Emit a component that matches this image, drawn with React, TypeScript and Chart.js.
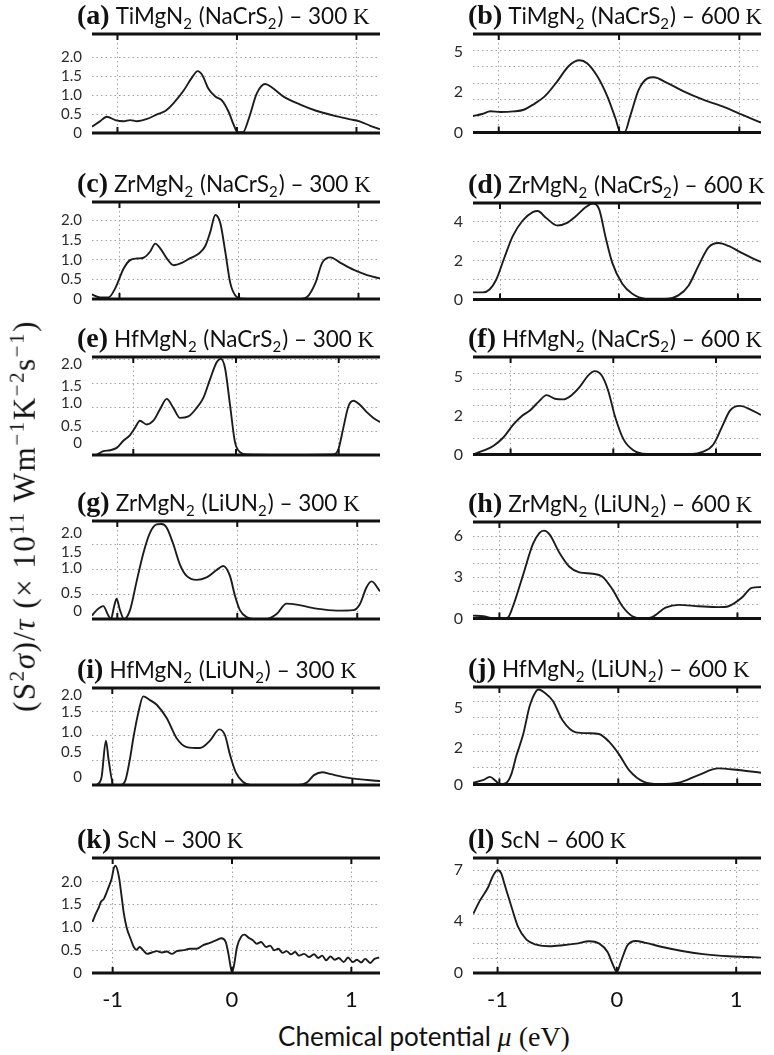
import React, { useEffect, useRef } from "react";
import { Chart, registerables } from "chart.js";
Chart.register(...registerables);

// ---------------- data (chemical potential in eV, (S^2 sigma)/tau in 1e11 units) ----------------
const muA = [-1.213,-1.15,-1.088,-1.018,-0.948,-0.893,-0.837,-0.753,-0.669,-0.6,-0.53,-0.446,-0.377,-0.329,-0.293,-0.237,-0.181,-0.126,-0.07,-0.028,0.006,0.05,0.098,0.167,0.237,0.293,0.39,0.53,0.669,0.809,0.948,1.032,1.116,1.197];
const sA = [0.165,0.3,0.43,0.34,0.31,0.34,0.31,0.37,0.49,0.58,0.79,1.12,1.46,1.63,1.54,1.16,0.96,0.86,0.56,0.22,0.02,0.02,0.37,1.05,1.29,1.2,0.96,0.75,0.58,0.46,0.36,0.3,0.19,0.1];

const muB = [-1.214,-1.138,-1.069,-0.986,-0.875,-0.792,-0.709,-0.612,-0.515,-0.418,-0.327,-0.266,-0.183,-0.1,-0.03,0.011,0.047,0.094,0.163,0.233,0.288,0.399,0.537,0.704,0.87,1.008,1.119,1.18];
const sB = [1.0,1.12,1.29,1.24,1.28,1.38,1.72,2.24,3.1,4.05,4.4,4.22,3.45,2.24,0.86,0.03,0.03,1.03,2.59,3.28,3.36,3.02,2.5,1.98,1.55,1.12,0.78,0.6];

const muC = [-1.232,-1.162,-1.092,-1.036,-0.966,-0.911,-0.855,-0.799,-0.743,-0.701,-0.659,-0.603,-0.547,-0.478,-0.408,-0.338,-0.282,-0.24,-0.198,-0.156,-0.115,-0.073,-0.031,0.025,0.235,0.514,0.57,0.64,0.696,0.765,0.849,0.961,1.073,1.184];
const sC = [0.12,0.04,0.04,0.27,0.77,0.99,1.03,1.05,1.21,1.41,1.29,1.03,0.86,0.92,1.04,1.15,1.35,1.71,2.14,1.93,1.21,0.41,0.09,0.01,0,0,0.05,0.41,0.92,1.06,0.92,0.74,0.61,0.52];

const muD = [-1.227,-1.144,-1.088,-1.032,-0.962,-0.893,-0.809,-0.725,-0.683,-0.614,-0.516,-0.446,-0.363,-0.279,-0.223,-0.167,-0.112,-0.056,0.028,0.112,0.223,0.39,0.502,0.586,0.669,0.753,0.837,0.921,1.032,1.116,1.194];
const sD = [0.36,0.36,0.51,1.01,2.17,3.26,4.06,4.49,4.55,4.2,3.8,3.91,4.28,4.75,4.93,4.64,3.19,1.88,0.8,0.29,0.04,0.03,0.22,0.72,1.74,2.68,2.9,2.75,2.39,2.14,1.93];

const muE = [-1.357,-1.292,-1.227,-1.162,-1.097,-1.032,-0.984,-0.935,-0.87,-0.805,-0.74,-0.675,-0.61,-0.545,-0.464,-0.383,-0.318,-0.253,-0.188,-0.149,-0.107,-0.058,-0.01,0.039,0.104,0.461,0.948,0.997,1.045,1.094,1.143,1.208,1.273,1.338,1.402];
const sE = [0,0.08,0.1,0.15,0.3,0.42,0.57,0.72,0.64,0.72,0.96,1.18,0.99,0.78,0.81,0.99,1.2,1.59,1.95,2.02,1.83,1.05,0.27,0.06,0.01,0,0.01,0.12,0.57,1.02,1.14,1.05,0.9,0.78,0.69];

const muF = [-1.364,-1.266,-1.169,-1.071,-0.974,-0.893,-0.812,-0.731,-0.649,-0.568,-0.487,-0.406,-0.325,-0.244,-0.179,-0.114,-0.049,0.016,0.097,0.195,0.325,0.747,0.877,0.974,1.055,1.136,1.234,1.331,1.438];
const sF = [0,0.23,0.52,1.04,1.83,2.35,2.7,3.22,3.65,3.43,3.39,3.65,4.17,4.87,5.13,4.87,3.91,2.35,0.96,0.26,0.03,0.02,0.17,0.61,1.65,2.7,2.99,2.78,2.43];

const muG = [-1.211,-1.172,-1.117,-1.075,-1.053,-1.028,-1.006,-0.978,-0.944,-0.894,-0.839,-0.783,-0.728,-0.672,-0.631,-0.589,-0.533,-0.478,-0.422,-0.339,-0.256,-0.172,-0.117,-0.061,-0.019,0.022,0.078,0.161,0.244,0.328,0.411,0.494,0.661,0.828,0.967,1.022,1.078,1.119,1.19];
const sG = [0.07,0.18,0.26,0.07,0,0.24,0.41,0.18,0,0.18,0.76,1.33,1.74,1.91,1.92,1.85,1.51,1.1,0.87,0.79,0.84,0.99,1.07,0.87,0.47,0.18,0.04,0,0,0.1,0.31,0.29,0.21,0.17,0.18,0.3,0.64,0.76,0.56];

const muH = [-1.222,-1.136,-1.053,-0.97,-0.93,-0.886,-0.802,-0.719,-0.663,-0.627,-0.579,-0.496,-0.412,-0.329,-0.217,-0.134,-0.05,0.033,0.117,0.2,0.284,0.396,0.507,0.674,0.841,0.925,1.036,1.12,1.198];
const sH = [0.2,0.16,0,0,0.05,0.89,3.15,5.42,6.25,6.41,6.14,4.8,3.77,3.36,3.26,3.05,2.12,0.89,0.16,0,0.1,0.78,0.99,0.89,0.82,0.89,1.5,2.23,2.29];

const muI = [-1.128,-1.09,-1.053,-1.03,-0.99,-0.93,-0.89,-0.855,-0.825,-0.783,-0.742,-0.69,-0.63,-0.547,-0.464,-0.38,-0.27,-0.186,-0.108,-0.061,-0.019,0.03,0.09,0.15,0.25,0.55,0.62,0.68,0.75,0.82,0.98,1.23];
const sI = [0,0.15,0.9,0.5,0,0,0.1,0.5,0.95,1.47,1.8,1.73,1.63,1.36,0.95,0.77,0.75,0.9,1.13,1.01,0.61,0.25,0.06,0,0,0,0.05,0.2,0.26,0.22,0.14,0.08];

const muJ = [-1.222,-1.139,-1.08,-1.03,-0.997,-0.94,-0.9,-0.858,-0.8,-0.746,-0.69,-0.669,-0.62,-0.55,-0.468,-0.357,-0.245,-0.162,-0.078,0.006,0.09,0.216,0.341,0.508,0.674,0.841,1.008,1.2];
const sJ = [0.1,0.25,0.45,0.2,0,0.1,0.6,1.7,3.0,4.68,5.6,5.69,5.5,5.0,3.83,3.12,3.07,3.02,2.56,1.8,0.86,0.15,0.02,0.1,0.56,0.96,0.86,0.7];

const muK = [-1.169,-1.141,-1.114,-1.1,-1.072,-1.05,-1.028,-1.008,-0.99,-0.975,-0.947,-0.928,-0.906,-0.884,-0.85,-0.823,-0.801,-0.773,-0.745,-0.712,-0.67,-0.629,-0.587,-0.546,-0.504,-0.463,-0.407,-0.352,-0.296,-0.241,-0.186,-0.13,-0.089,-0.053,-0.03,-0.014,0,0.017,0.042,0.078,0.105,0.141,0.175,0.208,0.244,0.285,0.319,0.355,0.388,0.424,0.457,0.493,0.529,0.562,0.604,0.645,0.687,0.723,0.756,0.789,0.825,0.861,0.895,0.936,0.972,1.011,1.047,1.083,1.116,1.158,1.194,1.233];
const sK = [1.12,1.3,1.45,1.55,1.63,1.77,1.92,2.07,2.3,2.35,2.1,1.74,1.3,1.01,0.75,0.57,0.51,0.57,0.5,0.42,0.45,0.48,0.45,0.47,0.42,0.48,0.5,0.53,0.53,0.61,0.66,0.72,0.76,0.68,0.42,0.17,0.01,0.17,0.57,0.8,0.84,0.77,0.72,0.64,0.68,0.57,0.6,0.5,0.53,0.44,0.48,0.41,0.46,0.38,0.42,0.35,0.41,0.33,0.38,0.28,0.36,0.29,0.33,0.24,0.34,0.24,0.29,0.23,0.31,0.22,0.31,0.34];

const muL = [-1.203,-1.147,-1.078,-1.04,-1.0,-0.97,-0.939,-0.883,-0.828,-0.758,-0.675,-0.564,-0.453,-0.342,-0.231,-0.147,-0.078,-0.031,0,0.033,0.089,0.158,0.242,0.381,0.547,0.742,0.936,1.103,1.208];
const sL = [4.05,4.95,5.86,6.6,7.0,6.8,5.98,4.5,3.14,2.27,1.93,1.82,1.89,2.0,2.16,2.0,1.43,0.52,0.07,0.75,1.89,2.18,2.05,1.77,1.5,1.27,1.14,1.09,1.05];

// ---------------- axis ticks ----------------
const xTickValues = [-1, 0, 1];
const xTickText = ["-1", "0", "1"];

const grid300 = [0.5, 1, 1.5, 2];
const grid300short = [0.5, 1, 1.5];
const tickText300 = ["0", "0.5", "1.0", "1.5", "2.0"];
const tickPos300 = [0, 0.5, 1, 1.5, 2];
const tickPosE = [0.24, 0.61, 1.08, 1.44, 1.92];
const tickPosG = [0.15, 0.53, 1.02, 1.36, 1.74];
const tickPosI = [0.15, 0.67, 1.07, 1.47, 1.82];

const gridB = [1, 2, 3, 4, 5];
const tickPosB = [0, 2.5, 4.9];
const tickTextB = ["0", "2", "5"];
const gridD = [1, 2, 3, 4];
const tickPosD = [0, 2, 4];
const tickTextD = ["0", "2", "4"];
const gridF = [1, 2, 3, 4, 5];
const tickPosF = [0, 2.35, 4.75];
const tickTextF = ["0", "2", "5"];
const gridH = [1, 2, 3, 4, 5, 6];
const tickPosH = [0, 3, 6];
const tickTextH = ["0", "3", "6"];
const gridJ = [1, 2, 3, 4, 5];
const tickPosJ = [0, 2.22, 4.59];
const tickTextJ = ["0", "2", "5"];
const gridL = [1, 2, 3, 4, 5, 6, 7];
const tickPosL = [0, 3.55, 7.0];
const tickTextL = ["0", "4", "7"];

// ---------------- panels ----------------
const PANELS = [
  { letter: "(a)", title: "TiMgN_2 (NaCrS_2) – 300 K", col: 0, T: 34, B: 150, xMin: -1.213, xMax: 1.197, yMax: 2.61, mu: muA, s: sA, grid: grid300, tp: tickPos300, tt: tickText300 },
  { letter: "(b)", title: "TiMgN_2 (NaCrS_2) – 600 K", col: 1, T: 34, B: 150, xMin: -1.214, xMax: 1.18, yMax: 6.0, mu: muB, s: sB, grid: gridB, tp: tickPosB, tt: tickTextB },
  { letter: "(c)", title: "ZrMgN_2 (NaCrS_2) – 300 K", col: 0, T: 202, B: 316, xMin: -1.23, xMax: 1.18, yMax: 2.47, mu: muC, s: sC, grid: grid300, tp: tickPos300, tt: tickText300 },
  { letter: "(d)", title: "ZrMgN_2 (NaCrS_2) – 600 K", col: 1, T: 203, B: 317, xMin: -1.227, xMax: 1.194, yMax: 4.96, mu: muD, s: sD, grid: gridD, tp: tickPosD, tt: tickTextD },
  { letter: "(e)", title: "HfMgN_2 (NaCrS_2) – 300 K", col: 0, T: 357, B: 472, xMin: -1.402, xMax: 1.402, yMax: 2.06, mu: muE, s: sE, grid: grid300, tp: tickPosE, tt: tickText300 },
  { letter: "(f)", title: "HfMgN_2 (NaCrS_2) – 600 K", col: 1, T: 357, B: 472, xMin: -1.366, xMax: 1.438, yMax: 6.0, mu: muF, s: sF, grid: gridF, tp: tickPosF, tt: tickTextF },
  { letter: "(g)", title: "ZrMgN_2 (LiUN_2) – 300 K", col: 0, T: 521, B: 636, xMin: -1.211, xMax: 1.19, yMax: 1.98, mu: muG, s: sG, grid: grid300short, tp: tickPosG, tt: tickText300 },
  { letter: "(h)", title: "ZrMgN_2 (LiUN_2) – 600 K", col: 1, T: 522, B: 636, xMin: -1.222, xMax: 1.198, yMax: 7.04, mu: muH, s: sH, grid: gridH, tp: tickPosH, tt: tickTextH },
  { letter: "(i)", title: "HfMgN_2 (LiUN_2) – 300 K", col: 0, T: 688, B: 802, xMin: -1.169, xMax: 1.23, yMax: 1.97, mu: muI, s: sI, grid: grid300short, tp: tickPosI, tt: tickText300 },
  { letter: "(j)", title: "HfMgN_2 (LiUN_2) – 600 K", col: 1, T: 687, B: 802, xMin: -1.222, xMax: 1.2, yMax: 5.84, mu: muJ, s: sJ, grid: gridJ, tp: tickPosJ, tt: tickTextJ },
  { letter: "(k)", title: "ScN – 300 K", col: 0, T: 858, B: 973, xMin: -1.173, xMax: 1.24, yMax: 2.52, mu: muK, s: sK, grid: grid300, tp: tickPos300, tt: tickText300, showX: true },
  { letter: "(l)", title: "ScN – 600 K", col: 1, T: 858, B: 973, xMin: -1.206, xMax: 1.208, yMax: 7.84, mu: muL, s: sL, grid: gridL, tp: tickPosL, tt: tickTextL, showX: true },
];

const SANS = "Lato, 'Open Sans', sans-serif";
const SERIF = "'Liberation Serif', 'DejaVu Serif', serif";

const COLS = [
  { left: 30, width: 360, yWidth: 62, rightPad: 10, titleX: 47, yFont: 15 },
  { left: 420, width: 354, yWidth: 53, rightPad: 13, titleX: 48, yFont: 16 },
];
const TOP_PAD = 45;

const decoPlugin = {
  id: "deco",
  afterDraw(chart: any, _args: any, opts: any) {
    const { ctx, chartArea: a, scales } = chart;
    const xs = scales.x;
    ctx.save();
    ctx.strokeStyle = "#111";
    ctx.lineWidth = 3;
    ctx.beginPath();
    ctx.moveTo(a.left, a.top);
    ctx.lineTo(a.right, a.top);
    ctx.moveTo(a.left, a.bottom);
    ctx.lineTo(a.right, a.bottom);
    ctx.stroke();
    ctx.lineWidth = 2;
    ctx.beginPath();
    for (const v of xTickValues) {
      const px = xs.getPixelForValue(v);
      ctx.moveTo(px, a.top);
      ctx.lineTo(px, a.top + 6);
      ctx.moveTo(px, a.bottom);
      ctx.lineTo(px, a.bottom - 6);
    }
    ctx.stroke();

    // title
    const base = a.top - 10;
    let x = opts.titleX;
    ctx.fillStyle = "#111";
    ctx.textBaseline = "alphabetic";
    ctx.font = `bold 28px ${SERIF}`;
    ctx.fillText(opts.letter, x, base);
    x += ctx.measureText(opts.letter).width + 6;
    const parts: string[] = String(opts.title).split(/(_2)/);
    for (const part of parts) {
      if (part === "_2") {
        ctx.font = `15px ${SANS}`;
        ctx.fillText("2", x, base + 5);
        x += ctx.measureText("2").width + 1;
      } else if (part.endsWith("K")) {
        const pre = part.slice(0, -1);
        ctx.font = `22.5px ${SANS}`;
        ctx.fillText(pre, x, base);
        x += ctx.measureText(pre).width;
        ctx.font = `23px ${SERIF}`;
        ctx.fillText("K", x, base);
      } else {
        ctx.font = `22.5px ${SANS}`;
        ctx.fillText(part, x, base);
        x += ctx.measureText(part).width;
      }
    }
    ctx.restore();
  },
};

function Panel({ p }: { p: any }) {
  const ref = useRef<HTMLCanvasElement | null>(null);
  const col = COLS[p.col];
  const bottomExtra = p.showX ? 44 : 2;
  const height = p.B - p.T + TOP_PAD + bottomExtra;
  const top = p.T - TOP_PAD;

  useEffect(() => {
    if (!ref.current) return;
    const n = Math.min(p.mu.length, p.s.length);
    const pts = [];
    for (let i = 0; i < n; i++) pts.push({ x: p.mu[i], y: p.s[i] });
    const near = (a: number, b: number) => Math.abs(a - b) < 1e-6;
    const yTickVals = Array.from(new Set([...p.tp, ...p.grid])).sort((a: any, b: any) => a - b);
    const chart = new Chart(ref.current, {
      type: "line",
      data: {
        datasets: [
          {
            data: pts,
            borderColor: "#1c1c1c",
            borderWidth: 1.9,
            pointRadius: 0,
            cubicInterpolationMode: "monotone",
            fill: false,
          },
        ],
      },
      options: {
        animation: false,
        responsive: false,
        devicePixelRatio: 1,
        parsing: false,
        normalized: true,
        layout: { padding: { top: TOP_PAD, right: col.rightPad, bottom: p.showX ? 0 : 2, left: 0 } },
        plugins: {
          legend: { display: false },
          tooltip: { enabled: false },
          title: { display: false },
          deco: { letter: p.letter, title: p.title, titleX: col.titleX },
        } as any,
        scales: {
          x: {
            type: "linear",
            min: p.xMin,
            max: p.xMax,
            afterBuildTicks: (s: any) => {
              s.ticks = xTickValues.map((v) => ({ value: v }));
            },
            afterFit: (s: any) => {
              s.height = p.showX ? 44 : 0;
            },
            grid: { color: "#a3a3a3", lineWidth: 1, drawTicks: false },
            border: { display: false, dash: [1.5, 3] },
            ticks: {
              display: !!p.showX,
              autoSkip: false,
              maxRotation: 0,
              padding: 14,
              color: "#111",
              font: { family: SANS, size: 22 },
              callback: (v: any) => {
                const i = xTickValues.findIndex((t) => near(t, Number(v)));
                return i >= 0 ? xTickText[i] : "";
              },
            },
          },
          y: {
            type: "linear",
            min: 0,
            max: p.yMax,
            afterBuildTicks: (s: any) => {
              s.ticks = yTickVals.map((v: any) => ({ value: v }));
            },
            afterFit: (s: any) => {
              s.width = col.yWidth;
            },
            grid: {
              color: (ctx: any) =>
                ctx.tick && p.grid.some((g: number) => near(g, ctx.tick.value)) ? "#a3a3a3" : "rgba(0,0,0,0)",
              lineWidth: 1,
              drawTicks: false,
            },
            border: { display: false, dash: [1.5, 3] },
            ticks: {
              autoSkip: false,
              padding: 10,
              color: "#2a2a2a",
              font: { family: SANS, size: col.yFont },
              callback: (v: any) => {
                const i = p.tp.findIndex((t: number) => near(t, Number(v)));
                return i >= 0 ? p.tt[i] : "";
              },
            },
          },
        },
      } as any,
      plugins: [decoPlugin],
    });
    return () => chart.destroy();
  }, []);

  return (
    <canvas
      ref={ref}
      width={col.width}
      height={height}
      style={{ position: "absolute", left: col.left, top, width: col.width, height }}
    />
  );
}

const sup = { fontSize: "0.68em", verticalAlign: "0.5em" };

export default function App() {
  return (
    <div style={{ position: "absolute", left: 0, top: 0, width: 774, height: 1055, background: "#fff", overflow: "hidden" }}>
      {PANELS.map((p) => (
        <Panel key={p.letter} p={p} />
      ))}
      <div
        style={{
          position: "absolute",
          left: 23,
          top: 516,
          transform: "translate(-50%, -50%) rotate(-90deg)",
          whiteSpace: "nowrap",
          fontFamily: SERIF,
          fontSize: 31,
          letterSpacing: "1.5px",
          color: "#111",
          lineHeight: 1,
        }}
      >
        (S<span style={sup}>2</span>
        <i>σ</i>)/<i>τ</i> (× 10<span style={sup}>11</span> Wm<span style={sup}>−1</span>K<span style={sup}>−2</span>s
        <span style={sup}>−1</span>)
      </div>
      <div
        style={{
          position: "absolute",
          left: 424,
          top: 1037,
          transform: "translate(-50%, -50%)",
          whiteSpace: "nowrap",
          color: "#111",
          lineHeight: 1,
        }}
      >
        <span style={{ fontFamily: SANS, fontSize: 26 }}>Chemical potential </span>
        <span style={{ fontFamily: SERIF, fontSize: 28, fontStyle: "italic" }}>μ</span>
        <span style={{ fontFamily: SERIF, fontSize: 28 }}> (eV)</span>
      </div>
    </div>
  );
}
